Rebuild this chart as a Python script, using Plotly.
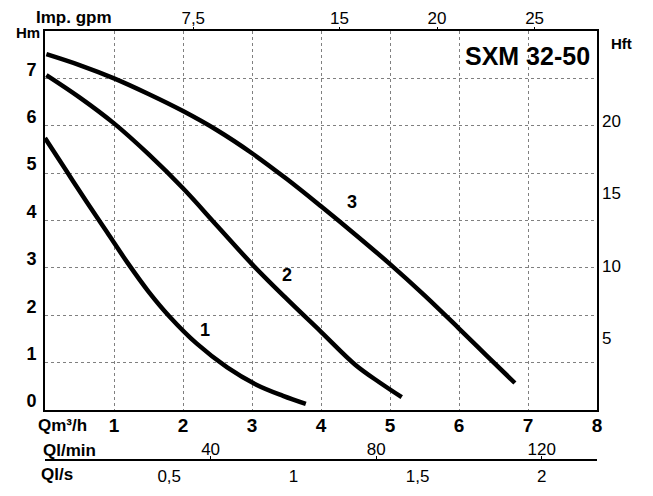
import plotly.graph_objects as go

# ---- data (Q in m3/h, H in m) ----
q1 = [0.0, 0.3, 0.6, 0.9, 1.2, 1.5, 1.8, 2.2, 2.64, 3.07, 3.45, 3.78]
h1 = [5.74, 5.07, 4.4, 3.75, 3.1, 2.5, 1.98, 1.4, 0.9, 0.53, 0.3, 0.13]

q2 = [0.02, 0.5, 1.0, 1.5, 2.0, 2.5, 3.0, 3.5, 4.0, 4.5, 4.85, 5.17]
h2 = [7.07, 6.6, 6.05, 5.4, 4.68, 3.88, 3.08, 2.35, 1.65, 0.95, 0.58, 0.27]

q3 = [0.02, 0.5, 1.0, 1.5, 2.0, 2.5, 3.0, 3.5, 4.0, 4.5, 5.0, 5.5, 6.0, 6.4, 6.81]
h3 = [7.51, 7.28, 7.0, 6.67, 6.31, 5.9, 5.42, 4.88, 4.3, 3.7, 3.08, 2.42, 1.72, 1.15, 0.57]

curve_names = ["1", "2", "3"]
label_q = [2.32, 3.5, 4.45]
label_h = [1.69, 2.85, 4.39]

qm3h_ticks = [1, 2, 3, 4, 5, 6, 7, 8]
hm_ticks = [0, 1, 2, 3, 4, 5, 6, 7]
hft_ticks = [5, 10, 15, 20]
gpm_ticks = [7.5, 15, 20, 25]
gpm_text = ["7,5", "15", "20", "25"]
lmin_ticks = [40, 80, 120]
ls_ticks = [0.5, 1, 1.5, 2]
ls_text = ["0,5", "1", "1,5", "2"]

# ---- scales ----
Q_MAX = 8
H_MAX = 8
M_TO_FT = 3.28084
M3H_TO_LMIN = 1000 / 60
M3H_TO_LS = 1 / 3.6
GPM_RANGE = [-0.1, 28.2]

# page offset (browser body margin)
OFF = 8
W, H = 653 - 2 * OFF, 496 - 2 * OFF
PLOT_LEFT, PLOT_RIGHT, PLOT_TOP, PLOT_BOTTOM = 45, 597, 31, 410   # page pixels
FLOW_LINE = 460
ML = PLOT_LEFT - OFF
MR = W - (PLOT_RIGHT - OFF)
MT = PLOT_TOP - OFF
MB = 2
paper_h = H - MT - MB


def px(x):
    return (x - PLOT_LEFT) / (PLOT_RIGHT - PLOT_LEFT)


def py(y):
    return (H - MB - (y - OFF)) / paper_h


FONT = "Liberation Sans"

fig = go.Figure()
for q, h in [(q1, h1), (q2, h2), (q3, h3)]:
    fig.add_trace(go.Scatter(x=q, y=h, mode="lines",
                             line=dict(color="black", width=4.5, shape="spline", smoothing=1),
                             showlegend=False, hoverinfo="skip"))

# empty traces so the extra axes exist
fig.add_trace(go.Scatter(x=[], y=[], xaxis="x2", yaxis="y", showlegend=False))
fig.add_trace(go.Scatter(x=[], y=[], xaxis="x", yaxis="y2", showlegend=False))
fig.add_trace(go.Scatter(x=[], y=[], xaxis="x3", yaxis="y", showlegend=False))
fig.add_trace(go.Scatter(x=[], y=[], xaxis="x4", yaxis="y", showlegend=False))

grid = dict(showgrid=True, gridcolor="#808080", griddash="dot", gridwidth=1)

fig.update_layout(
    width=W, height=H,
    margin=dict(l=ML, r=MR, t=MT, b=MB, autoexpand=False),
    paper_bgcolor="white", plot_bgcolor="white",
    font=dict(family=FONT, color="black"),
    xaxis=dict(range=[0, Q_MAX], tickvals=qm3h_ticks, ticks="", zeroline=False,
               showline=True, mirror=True, linecolor="black", linewidth=2,
               automargin=False,
               tickfont=dict(size=19, weight="bold"), ticklabelstandoff=-3, **grid),
    yaxis=dict(range=[0, H_MAX], tickvals=hm_ticks, ticks="", zeroline=False,
               domain=[py(PLOT_BOTTOM), 1], automargin=False,
               showline=True, mirror=True, linecolor="black", linewidth=2,
               tickfont=dict(size=18, weight="bold"), ticklabelshift=-9,
               ticklabelstandoff=3, **grid),
    xaxis2=dict(overlaying="x", side="top", range=GPM_RANGE, tickvals=gpm_ticks,
                ticktext=gpm_text, ticks="outside", ticklen=3, tickcolor="black",
                automargin=False, ticklabelstandoff=-4,
                showgrid=False, zeroline=False, tickfont=dict(size=17)),
    yaxis2=dict(overlaying="y", side="right", range=[0, H_MAX * M_TO_FT],
                tickvals=hft_ticks, ticks="", showgrid=False, zeroline=False,
                automargin=False,
                tickfont=dict(size=17), ticklabelstandoff=4),
    xaxis3=dict(overlaying="x", anchor="free", position=py(FLOW_LINE), side="top",
                range=[0, Q_MAX * M3H_TO_LMIN], tickvals=lmin_ticks,
                ticks="outside", ticklen=3, tickcolor="black", automargin=False,
                showline=True, linecolor="black", linewidth=1.5,
                ticklabelstandoff=-6,
                showgrid=False, zeroline=False, tickfont=dict(size=17)),
    xaxis4=dict(overlaying="x", anchor="free", position=py(FLOW_LINE), side="bottom",
                range=[0, Q_MAX * M3H_TO_LS], tickvals=ls_ticks, ticktext=ls_text,
                ticks="", showline=False, showgrid=False, zeroline=False,
                automargin=False, ticklabelstandoff=4,
                tickfont=dict(size=17)),
)

bold = dict(family=FONT, weight="bold", color="black")
ann = [
    dict(text="Imp. gpm", x=px(74), y=py(17), size=17),
    dict(text="Hm", x=px(28), y=py(33), size=15),
    dict(text="Hft", x=px(621), y=py(43), size=15),
    dict(text="SXM 32-50", x=px(527), y=py(56), size=25),
    dict(text="Qm³/h", x=px(62), y=py(425), size=17),
    dict(text="Ql/min", x=px(69), y=py(450), size=17),
    dict(text="Ql/s", x=px(57), y=py(474), size=17),
]
for a in ann:
    fig.add_annotation(text=a["text"], x=a["x"], y=a["y"], xref="paper", yref="paper",
                       showarrow=False, xanchor="center", yanchor="middle",
                       font=dict(size=a["size"], **bold))

for name, lq, lh in zip(curve_names, label_q, label_h):
    fig.add_annotation(text=name, x=lq, y=lh, xref="x", yref="y", showarrow=False,
                       font=dict(size=18, **bold))

fig.write_html("out.html")
